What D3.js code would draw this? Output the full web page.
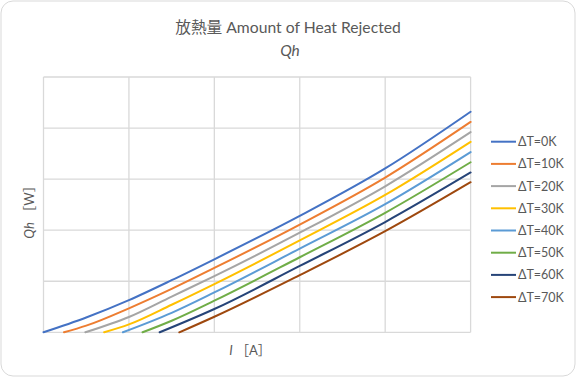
<!DOCTYPE html>
<html><head><meta charset="utf-8">
<script src="https://cdn.jsdelivr.net/npm/d3@7"></script>
<style>
html,body{margin:0;padding:0;background:#fff;}
svg{display:block;font-family:Lato,"Noto Sans CJK JP",sans-serif;}
</style></head>
<body><svg id="c" width="576" height="377"></svg>
<script>
const seriesNames = ["ΔT=0K","ΔT=10K","ΔT=20K","ΔT=30K","ΔT=40K","ΔT=50K","ΔT=60K","ΔT=70K"];
const colors = ["#4472C4","#ED7D31","#A5A5A5","#FFC000","#5B9BD5","#70AD47","#264478","#9E480E"];
const currentI = [
  [0,0.5,1,1.5,2,3,4,5],
  [0.24,0.5,1,1.5,2,3,4,5],
  [0.49,1,1.5,2,3,4,5],
  [0.71,1,1.5,2,3,4,5],
  [0.93,1.5,2,3,4,5],
  [1.16,1.5,2,3,4,5],
  [1.36,2,3,4,5],
  [1.59,2,3,4,5]
];
const heatQh = [
  [0,0.29,0.63,1.02,1.43,2.28,3.21,4.32],
  [0,0.13,0.47,0.85,1.26,2.11,3.03,4.12],
  [0,0.30,0.70,1.10,1.95,2.86,3.92],
  [0,0.155,0.54,0.945,1.80,2.69,3.73],
  [0,0.38,0.78,1.64,2.51,3.53],
  [0,0.227,0.62,1.47,2.34,3.33],
  [0,0.456,1.30,2.16,3.13],
  [0,0.305,1.12,1.98,2.94]
];
const xTicks = [0,1,2,3,4,5];
const yTicks = [0,1,2,3,4,5];

const svg = d3.select("#c");
svg.append("rect").attr("x",1).attr("y",1).attr("width",574).attr("height",375)
  .attr("rx",12).attr("fill","#fff").attr("stroke","#d9d9d9").attr("stroke-width",1);

const L=43.5, R=470.6, T=77, B=332.3;
const x = d3.scaleLinear().domain([0,5]).range([L,R]);
const y = d3.scaleLinear().domain([0,5]).range([B,T]);

const g = svg.append("g");
g.selectAll(".vg").data(xTicks).join("line")
  .attr("x1",d=>x(d)).attr("x2",d=>x(d)).attr("y1",T).attr("y2",B)
  .attr("stroke","#d9d9d9").attr("stroke-width",1.3);
g.selectAll(".hg").data(yTicks).join("line")
  .attr("y1",d=>y(d)).attr("y2",d=>y(d)).attr("x1",L).attr("x2",R)
  .attr("stroke","#d9d9d9").attr("stroke-width",1.3);

const line = d3.line().x(d=>x(d[0])).y(d=>y(d[1])).curve(d3.curveMonotoneX);
seriesNames.forEach((n,i)=>{
  const pts = currentI[i].map((v,j)=>[v,heatQh[i][j]]);
  g.append("path").attr("d",line(pts)).attr("fill","none")
    .attr("stroke",colors[i]).attr("stroke-width",2).attr("stroke-linecap","round");
});

// titles
svg.append("text").attr("x",288).attr("y",33).attr("text-anchor","middle")
  .attr("font-size",15.7).attr("fill","#595959").text("放熱量 Amount of Heat Rejected");
svg.append("text").attr("x",290).attr("y",56).attr("text-anchor","middle")
  .attr("font-size",15.5).attr("font-style","italic").attr("fill","#595959").text("Qh");

// axis labels
const yl = svg.append("text").attr("transform","translate(34,209) rotate(-90)")
  .attr("text-anchor","middle").attr("font-size",13).attr("fill","#595959");
yl.append("tspan").attr("font-style","italic").text("Qh");
yl.append("tspan").text(" ［W］");
const xl = svg.append("text").attr("x",250).attr("y",355)
  .attr("text-anchor","middle").attr("font-size",13).attr("fill","#595959");
xl.append("tspan").attr("font-style","italic").text("I");
xl.append("tspan").text(" ［A］");

// legend
const lg = svg.append("g");
seriesNames.forEach((n,i)=>{
  const yy = 141.7 + i*22.2;
  lg.append("line").attr("x1",491).attr("x2",516).attr("y1",yy).attr("y2",yy)
    .attr("stroke",colors[i]).attr("stroke-width",2);
  lg.append("text").attr("x",518).attr("y",yy+4.5).attr("font-size",12.5)
    .attr("fill","#595959").text(n);
});
</script></body></html>
